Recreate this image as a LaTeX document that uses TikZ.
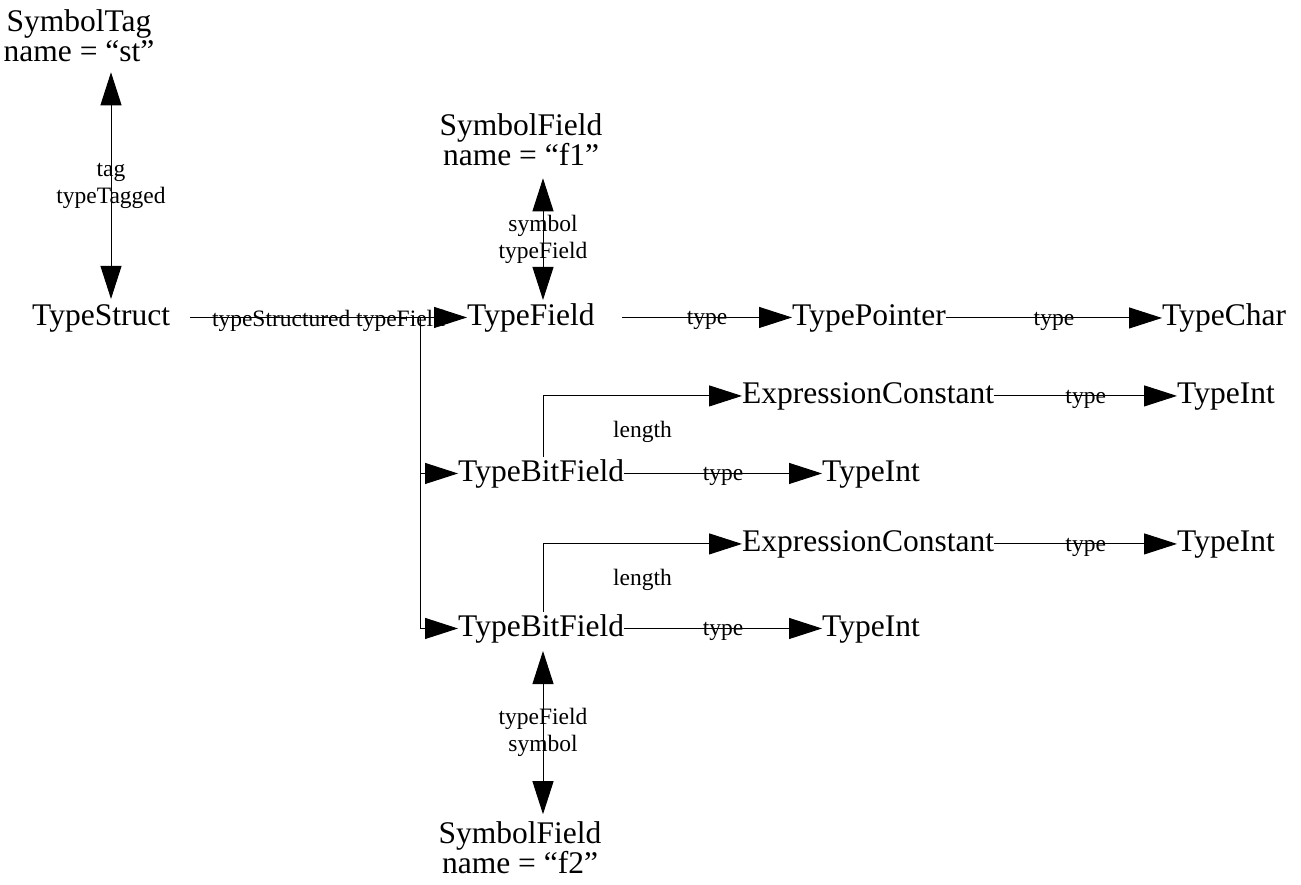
\documentclass[tikz,border=0pt]{standalone}
\usepackage{fontspec}
\setmainfont{Liberation Serif}
\usetikzlibrary{arrows.meta,calc}
\begin{document}
\begin{tikzpicture}[x=1pt,y=-1pt,
  big/.style={inner sep=0pt, font=\fontsize{31.5}{30}\selectfont, align=center},
  lab/.style={inner sep=0pt, font=\fontsize{23.5}{27}\selectfont, align=center},
  onl/.style={lab, yshift=-3pt},
  conn/.style={draw=black, line width=1pt, -{Triangle[length=33pt,width=21pt]}},
  dbl/.style={draw=black, line width=1pt, {Triangle[length=33pt,width=21pt]}-{Triangle[length=33pt,width=21pt]}},
]
\path[use as bounding box] (0,0) rectangle (1301,885);

% nodes
\node[big, anchor=base west] (ts) at (32,325) {TypeStruct};
\node[big, anchor=base west] (tf) at (467,325) {TypeField};
\node[big, anchor=base west] (tp) at (792,325) {TypePointer};
\node[big, anchor=base west] (tc) at (1162,325) {TypeChar};
\node[big, anchor=base west] (ec1) at (742,403) {ExpressionConstant};
\node[big, anchor=base west] (ti2) at (1177,403) {TypeInt};
\node[big, anchor=base west] (tbf1) at (458,481) {TypeBitField};
\node[big, anchor=base west] (ti1) at (822,481) {TypeInt};
\node[big, anchor=base west] (ec2) at (742,551) {ExpressionConstant};
\node[big, anchor=base west] (ti4) at (1177,551) {TypeInt};
\node[big, anchor=base west] (tbf2) at (458,636) {TypeBitField};
\node[big, anchor=base west] (ti3) at (822,636) {TypeInt};
\node[big] (stag) at (79,36) {SymbolTag\\name = “st”};
\node[big] (sf1) at (521,140) {SymbolField\\name = “f1”};
\node[big] (sf2) at (520,848) {SymbolField\\name = “f2”};

% helper coordinates (free ends)
\coordinate (tso) at ($(tf.west)+(-277,0)$);
\coordinate (split) at ($(tf.west)+(-47,0)$);
\coordinate (tfo) at ($(tf.west)+(155,0)$);

% connectors
\draw[conn] (tso) -- node[onl]{typeStructured typeField} (tf.west);
\draw[conn] (split) |- (tbf1.west);
\draw[conn] (split) |- (tbf2.west);
\draw[conn] (tfo) -- node[onl]{type} (tfo -| tp.west);
\draw[conn] (tp.east) -- node[onl]{type} (tp.east -| tc.west);
\draw[conn] (tbf1.east) -- node[onl]{type} (tbf1.east -| ti1.west);
\draw[conn] (tbf2.east) -- node[onl]{type} (tbf2.east -| ti3.west);
\draw[conn] (ec1.east) -- node[onl]{type} (ec1.east -| ti2.west);
\draw[conn] (ec2.east) -- node[onl]{type} (ec2.east -| ti4.west);
\draw[conn] ($(tbf1.north)+(2,-2)$) |- node[lab, pos=0.75, below=25pt]{length} (ec1.west);
\draw[conn] ($(tbf2.north)+(2,-2)$) |- node[lab, pos=0.75, below=25pt]{length} (ec2.west);

\draw[dbl] ($(stag.south)+(32,10)$) -- node[lab]{tag\\typeTagged} ($(stag.south |- ts.north)+(32,-5)$);
\draw[dbl] ($(sf1.south)+(22,12)$) -- node[lab]{symbol\\typeField} ($(sf1.south |- tf.north)+(22,-3)$);
\draw[dbl] ($(sf2.north |- tbf2.south)+(23,8)$) -- node[lab]{typeField\\symbol} ($(sf2.north)+(23,-7.5)$);
\end{tikzpicture}
\end{document}
